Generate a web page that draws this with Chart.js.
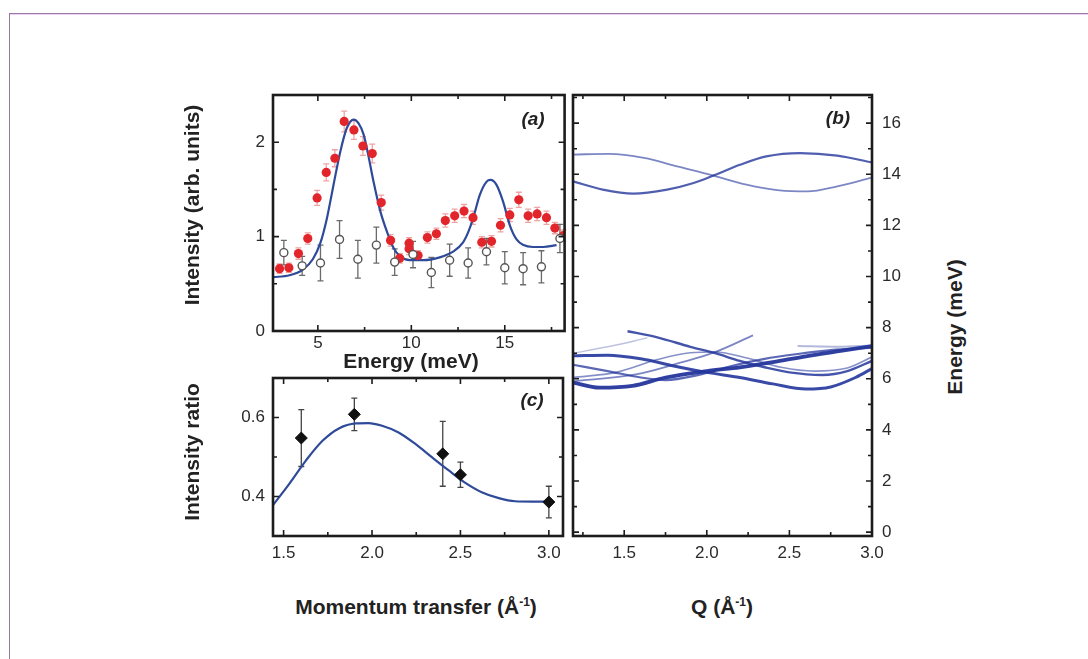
<!DOCTYPE html>
<html>
<head>
<meta charset="utf-8">
<script src="https://cdn.jsdelivr.net/npm/chart.js@4.4.1/dist/chart.umd.min.js"></script>
<style>
  html, body { margin: 0; padding: 0; background: #fff; }
  body { width: 1088px; height: 659px; position: relative; overflow: hidden; font-family: "Liberation Sans", Arial, sans-serif; }
  .frame { position: absolute; left: 9px; top: 13px; right: 0; bottom: 0; border-top: 1px solid #9a78a8; border-left: 1px solid #8c7c98; box-shadow: inset 0 1px 0 #efd2f3; }
  .box { position: absolute; }
  .lbl { position: absolute; font-weight: bold; font-size: 21px; color: #222; white-space: nowrap; transform: translate(-50%, -50%); }
  .rot { transform: translate(-50%, -50%) rotate(-90deg); }
  .tag { position: absolute; font-weight: bold; font-style: italic; font-size: 19px; color: #222; transform: translate(-50%, -50%); }
  sup { font-size: 12px; line-height: 0; }
</style>
</head>
<body>
<div class="frame"></div>

<div class="box" style="left:200px;top:85px;width:370px;height:290px"><canvas id="chartA"></canvas></div>
<div class="box" style="left:200px;top:370px;width:370px;height:200px"><canvas id="chartC"></canvas></div>
<div class="box" style="left:570px;top:85px;width:340px;height:485px"><canvas id="chartB"></canvas></div>

<div class="lbl" style="left:411px;top:361px">Energy (meV)</div>
<div class="lbl" style="left:416px;top:607px">Momentum transfer (Å<sup>-1</sup>)</div>
<div class="lbl" style="left:722px;top:607px">Q (Å<sup>-1</sup>)</div>
<div class="lbl rot" style="left:192px;top:205px">Intensity (arb. units)</div>
<div class="lbl rot" style="left:192px;top:452px">Intensity ratio</div>
<div class="lbl rot" style="left:955px;top:327px">Energy (meV)</div>
<div class="tag" style="left:533px;top:119px">(a)</div>
<div class="tag" style="left:838px;top:118px">(b)</div>
<div class="tag" style="left:532px;top:400px">(c)</div>

<script>
// --- Panel (a): energy scans ---
const energyRed = [2.95, 3.45, 3.96, 4.46, 4.96, 5.45, 5.91, 6.41, 6.93, 7.41, 7.91, 8.39, 8.89, 9.38, 9.88, 9.88, 10.36,
  10.86, 11.34, 11.82, 12.32, 12.82, 13.30, 13.77, 14.29, 14.77, 15.27, 15.75, 16.25, 16.73, 17.23, 17.68, 18.13];
const intensRed = [0.66, 0.67, 0.82, 0.98, 1.41, 1.68, 1.83, 2.22, 2.13, 1.96, 1.88, 1.36, 0.96, 0.77, 0.93, 0.87, 0.80,
  0.99, 1.03, 1.17, 1.22, 1.27, 1.20, 0.94, 0.95, 1.12, 1.23, 1.39, 1.22, 1.24, 1.20, 1.09, 1.01];
const errRed = [0.05, 0.05, 0.06, 0.06, 0.08, 0.09, 0.09, 0.11, 0.10, 0.10, 0.10, 0.08, 0.06, 0.05, 0.06, 0.06, 0.05,
  0.06, 0.06, 0.07, 0.07, 0.07, 0.07, 0.06, 0.06, 0.07, 0.07, 0.08, 0.07, 0.07, 0.07, 0.06, 0.06];

const energyOpen = [3.18, 4.16, 5.14, 6.16, 7.14, 8.13, 9.11, 10.09, 11.07, 12.05, 13.04, 14.02, 15.00, 15.98, 16.96, 17.95];
const intensOpen = [0.83, 0.69, 0.72, 0.97, 0.76, 0.91, 0.73, 0.81, 0.62, 0.75, 0.72, 0.84, 0.67, 0.66, 0.68, 0.98];
const errOpen    = [0.13, 0.10, 0.19, 0.20, 0.20, 0.19, 0.14, 0.14, 0.16, 0.17, 0.16, 0.14, 0.17, 0.17, 0.17, 0.15];

const fitEnergy = [2.59, 3.48, 4.20, 4.73, 5.13, 5.48, 5.84, 6.20, 6.55, 6.91, 7.18, 7.45, 7.71, 7.98, 8.34, 8.70, 9.05, 9.41,
  9.91, 10.63, 11.52, 12.23, 12.77, 13.05, 13.30, 13.66, 14.02, 14.23, 14.55, 14.91, 15.27, 15.63, 16.00, 16.50, 17.05, 17.77];
const fitIntens = [0.57, 0.59, 0.65, 0.76, 0.93, 1.19, 1.55, 1.90, 2.15, 2.24, 2.20, 2.08, 1.85, 1.58, 1.27, 1.05, 0.88, 0.79,
  0.75, 0.75, 0.78, 0.84, 0.94, 1.05, 1.19, 1.44, 1.58, 1.60, 1.55, 1.37, 1.12, 0.97, 0.91, 0.89, 0.89, 0.91];

// --- Panel (c): intensity ratio ---
const ratioQ   = [1.6, 1.9, 2.4, 2.5, 3.0];
const ratioVal = [0.548, 0.608, 0.508, 0.455, 0.386];
const ratioErr = [0.072, 0.041, 0.082, 0.032, 0.040];
const ratioFitQ = [1.438, 1.532, 1.626, 1.72, 1.815, 1.909, 1.98, 2.057, 2.15, 2.245, 2.34, 2.434, 2.53, 2.62, 2.717, 2.81, 2.906, 3.0];
const ratioFitV = [0.377, 0.432, 0.491, 0.541, 0.573, 0.585, 0.586, 0.579, 0.562, 0.533, 0.499, 0.466, 0.434, 0.411, 0.396, 0.388, 0.387, 0.387];

// --- Panel (b): dispersion branches [Q, E] ---
const upperA = [[1.19, 14.77], [1.41, 14.80], [1.62, 14.64], [1.82, 14.31], [2.04, 13.95], [2.24, 13.59], [2.44, 13.37], [2.61, 13.33], [2.79, 13.53], [3.0, 13.87]];
const upperB = [[1.19, 13.72], [1.37, 13.40], [1.555, 13.24], [1.76, 13.40], [1.92, 13.66], [2.04, 13.95], [2.20, 14.37], [2.36, 14.70], [2.565, 14.83], [2.79, 14.73], [3.0, 14.46]];
const lower1 = [[1.19, 6.90], [1.40, 6.92], [1.60, 6.78], [1.80, 6.50], [2.00, 6.25], [2.20, 6.05], [2.40, 5.80], [2.60, 5.60], [2.75, 5.68], [2.90, 6.05], [3.0, 6.40]];
const lower2 = [[1.19, 5.85], [1.35, 5.65], [1.55, 5.72], [1.75, 6.05], [2.00, 6.30], [2.20, 6.45], [2.40, 6.65], [2.60, 6.88], [2.80, 7.08], [3.0, 7.28]];
const lower3 = [[1.19, 6.55], [1.40, 6.30], [1.60, 6.05], [1.75, 5.95], [1.95, 6.15], [2.15, 6.50], [2.35, 6.78], [2.55, 6.97], [2.75, 7.12], [3.0, 7.22]];
const lower4 = [[1.52, 7.86], [1.70, 7.62], [1.90, 7.25], [2.05, 7.00], [2.20, 6.70], [2.35, 6.45], [2.50, 6.25], [2.70, 6.15], [2.85, 6.30], [3.0, 6.70]];
const lower5 = [[1.19, 6.05], [1.45, 6.25], [1.70, 6.75], [1.90, 7.02], [2.05, 7.05], [2.25, 6.80], [2.45, 6.45], [2.65, 6.30], [2.85, 6.42], [3.0, 6.85]];
const lower6 = [[1.19, 5.90], [1.57, 6.17], [1.84, 6.63], [2.04, 7.02], [2.28, 7.70]];
const lower7 = [[1.19, 7.00], [1.40, 7.25], [1.64, 7.60]];
const lower8 = [[2.55, 7.28], [2.80, 7.25], [3.0, 7.30]];

// --- Estilos ---
const TICK_FONT = '"Liberation Sans Narrow", "Liberation Sans", Arial, sans-serif';
const pts = (xs, ys) => xs.map((x, i) => ({ x, y: ys[i] }));
const pairs = arr => arr.map(([x, y]) => ({ x, y }));
const isMult = (v, m) => Math.abs(v / m - Math.round(v / m)) < 1e-6;

// --- Plugins ---
const errorBars = {
  id: "errorBars",
  beforeDatasetsDraw(chart) {
    const { ctx } = chart;
    const sx = chart.scales.x, sy = chart.scales.y;
    chart.data.datasets.forEach(ds => {
      if (!ds.errors) return;
      ctx.save();
      ctx.strokeStyle = ds.errorColor;
      ctx.lineWidth = 1.3;
      ds.data.forEach((p, k) => {
        const px = sx.getPixelForValue(p.x);
        const y1 = sy.getPixelForValue(p.y - ds.errors[k]);
        const y2 = sy.getPixelForValue(p.y + ds.errors[k]);
        const c = ds.capWidth;
        ctx.beginPath();
        ctx.moveTo(px, y1); ctx.lineTo(px, y2);
        ctx.moveTo(px - c, y1); ctx.lineTo(px + c, y1);
        ctx.moveTo(px - c, y2); ctx.lineTo(px + c, y2);
        ctx.stroke();
      });
      ctx.restore();
    });
  }
};

const frameTicks = {
  id: "frameTicks",
  afterDraw(chart) {
    const { ctx, chartArea: a } = chart;
    ctx.save();
    ctx.strokeStyle = "#1c1c1c";
    ctx.lineWidth = 1.6;
    Object.values(chart.scales).forEach(s => {
      s.ticks.forEach(t => {
        const len = t.label !== "" ? 6 : 4;
        const p = s.getPixelForValue(t.value);
        ctx.beginPath();
        if (s.isHorizontal()) {
          ctx.moveTo(p, a.bottom); ctx.lineTo(p, a.bottom - len);
          ctx.moveTo(p, a.top); ctx.lineTo(p, a.top + len);
        } else {
          ctx.moveTo(a.left, p); ctx.lineTo(a.left + len, p);
          ctx.moveTo(a.right, p); ctx.lineTo(a.right - len, p);
        }
        ctx.stroke();
      });
    });
    ctx.lineWidth = 2.6;
    ctx.strokeRect(a.left, a.top, a.right - a.left, a.bottom - a.top);
    ctx.restore();
  }
};

function axis(min, max, step, fmt, size, pad, position) {
  return {
    type: "linear", position, min, max,
    grid: { display: false, drawTicks: false, tickLength: 0 }, border: { display: false },
    afterFit: s => {
      if (s.isHorizontal()) s.height = size; else s.width = size;
      s.paddingTop = s.paddingBottom = s.paddingLeft = s.paddingRight = 0;
    },
    ticks: {
      stepSize: step, autoSkip: false, maxRotation: 0, includeBounds: false, maxTicksLimit: 100,
      padding: pad, color: "#2a2a2a", font: { family: TICK_FONT, size: 17 },
      callback: fmt
    }
  };
}

const base = (padding) => ({
  responsive: true, maintainAspectRatio: false, animation: false,
  layout: { padding },
  plugins: { legend: { display: false }, tooltip: { enabled: false } }
});

// --- Panel (a) ---
new Chart(document.getElementById("chartA"), {
  type: "scatter",
  data: {
    datasets: [
      { data: pts(energyOpen, intensOpen), errors: errOpen, errorColor: "#6a6a6a", capWidth: 3,
        pointRadius: 4, pointBackgroundColor: "#fff", pointBorderColor: "#555", pointBorderWidth: 1.4 },
      { data: pts(energyRed, intensRed), errors: errRed, errorColor: "rgba(226,90,90,0.55)", capWidth: 3,
        pointRadius: 4.6, pointBackgroundColor: "#e2242b", pointBorderColor: "#e2242b", pointBorderWidth: 0 },
      { data: pts(fitEnergy, fitIntens), showLine: true, pointRadius: 0, borderColor: "#2f4a99", borderWidth: 2.2,
        cubicInterpolationMode: "monotone" }
    ]
  },
  options: {
    ...base({ left: 0, top: 10, right: 5, bottom: 0 }),
    scales: {
      x: axis(2.6, 18.2, 2.5, v => isMult(v, 5) ? String(v) : "", 44, 2, "bottom"),
      y: axis(0, 2.5, 0.5, v => isMult(v, 1) ? String(v) : "", 73, 8, "left")
    }
  },
  plugins: [errorBars, frameTicks]
});

// --- Panel (c) ---
new Chart(document.getElementById("chartC"), {
  type: "scatter",
  data: {
    datasets: [
      { data: pts(ratioQ, ratioVal), errors: ratioErr, errorColor: "#444", capWidth: 3,
        pointStyle: "rectRot", pointRadius: 6, pointBackgroundColor: "#111", pointBorderColor: "#111" },
      { data: pts(ratioFitQ, ratioFitV), showLine: true, pointRadius: 0, borderColor: "#2f4a99", borderWidth: 2.2,
        cubicInterpolationMode: "monotone" }
    ]
  },
  options: {
    ...base({ left: 0, top: 8, right: 5, bottom: 0 }),
    scales: {
      x: axis(1.44, 3.08, 0.25, v => isMult(v, 0.5) ? v.toFixed(1) : "", 34, 7, "bottom"),
      y: axis(0.3, 0.7, 0.1, v => isMult(v, 0.2) ? v.toFixed(1) : "", 73, 8, "left")
    }
  },
  plugins: [errorBars, frameTicks]
});

// --- Panel (b) ---
const branches = [upperA, upperB, lower1, lower2, lower3, lower4, lower5, lower6, lower7, lower8];
const branchStyle = [
  [0.6, 1.8], [0.8, 2.2], [0.9, 3.0], [0.95, 3.8], [0.75, 2.2], [0.85, 2.4], [0.55, 1.6], [0.6, 1.8], [0.3, 1.5], [0.35, 2.0]
];
new Chart(document.getElementById("chartB"), {
  type: "scatter",
  data: {
    datasets: branches.map((b, i) => ({
      data: pairs(b), showLine: true, pointRadius: 0,
      borderColor: `rgba(36,54,156,${branchStyle[i][0]})`, borderWidth: branchStyle[i][1],
      cubicInterpolationMode: "monotone"
    }))
  },
  options: {
    ...base({ left: 3, top: 10, right: 0, bottom: 0 }),
    scales: {
      x: axis(1.19, 3.0, 0.25, v => isMult(v, 0.5) ? v.toFixed(1) : "", 34, 7, "bottom"),
      y: axis(-0.15, 17.1, 1, v => isMult(v, 2) ? String(v) : "", 38, 10, "right")
    }
  },
  plugins: [frameTicks]
});
</script>
</body>
</html>
